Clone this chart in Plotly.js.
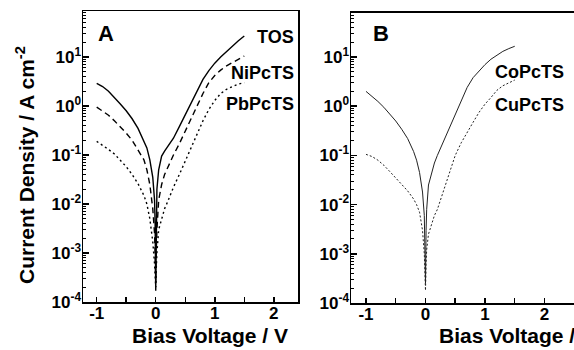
<!DOCTYPE html>
<html>
<head>
<meta charset="utf-8">
<script src="https://cdn.plot.ly/plotly-3.0.1.min.js"></script>
<style>html,body{margin:0;padding:0;background:#fff;}#chart{width:574px;height:350px;}</style>
</head>
<body>
<div id="chart"></div>
<script>
// Bias voltage grid (V)
var voltage = [-1,-0.9,-0.8,-0.7,-0.6,-0.5,-0.4,-0.3,-0.2,-0.15,-0.1,-0.05,-0.02,-0.01,0,0.01,0.02,0.05,0.1,0.15,0.2,0.3,0.4,0.5,0.6,0.7,0.8,0.9,1.0,1.1,1.2,1.3,1.4,1.5];

// Panel A current densities (A cm^-2)
var tosJ    = [2.9,2.5,2.0,1.5,1.1,0.8,0.55,0.35,0.2,0.14,0.08,0.035,0.012,0.004,1.7e-4,0.006,0.02,0.05,0.095,0.12,0.15,0.22,0.38,0.65,1.15,1.9,3.5,5.3,7.5,10,13,17,21.5,27];
var niPcTSJ = [0.95,0.8,0.65,0.5,0.38,0.28,0.2,0.13,0.08,0.05,0.025,0.008,0.0025,0.001,2.5e-4,0.0012,0.003,0.012,0.025,0.04,0.055,0.1,0.17,0.3,0.55,1.0,1.8,3.0,4.2,5.4,6.6,7.8,9.0,10.5];
var pbPcTSJ = [0.19,0.16,0.13,0.105,0.08,0.058,0.04,0.026,0.015,0.01,0.005,0.0017,6e-4,4e-4,2e-4,5e-4,0.001,0.003,0.005,0.008,0.011,0.022,0.04,0.075,0.14,0.27,0.5,0.85,1.3,1.8,2.2,2.5,2.8,3.0];

// Panel B current densities (A cm^-2)
var coPcTSJ = [2.0,1.6,1.25,0.95,0.7,0.5,0.34,0.22,0.12,0.08,0.045,0.018,0.006,0.002,2.5e-4,0.003,0.008,0.025,0.045,0.07,0.1,0.19,0.37,0.7,1.3,2.4,3.8,5.3,7.0,9.0,11,13,14.8,16.5];
var cuPcTSJ = [0.105,0.095,0.08,0.063,0.047,0.035,0.026,0.019,0.013,0.01,0.007,0.003,0.001,5e-4,1.8e-4,6e-4,0.0012,0.0025,0.004,0.006,0.008,0.018,0.045,0.1,0.18,0.3,0.47,0.75,1.1,1.5,2.1,2.6,3.0,3.4];

// Tick labels
var yTickVals = [1e-4,1e-3,1e-2,1e-1,1e0,1e1];
var yTickText = ['10<sup>-4</sup>','10<sup>-3</sup>','10<sup>-2</sup>','10<sup>-1</sup>','10<sup>0</sup>','10<sup>1</sup>'];
var xTickVals = [-1,0,1,2];
var xTickText = ['-1','0','1','2'];

var FONT = 'Liberation Sans, Arial, sans-serif';

var traces = [
  {x: voltage, y: tosJ, xaxis:'x', yaxis:'y', mode:'lines', line:{color:'#000', width:1.4}},
  {x: voltage, y: niPcTSJ, xaxis:'x', yaxis:'y', mode:'lines', line:{color:'#000', width:1.4, dash:'6px,4px'}},
  {x: voltage, y: pbPcTSJ, xaxis:'x', yaxis:'y', mode:'lines', line:{color:'#000', width:1.4, dash:'2px,3px'}},
  {x: voltage, y: coPcTSJ, xaxis:'x2', yaxis:'y2', mode:'lines', line:{color:'#222', width:1.0}},
  {x: voltage, y: cuPcTSJ, xaxis:'x2', yaxis:'y2', mode:'lines', line:{color:'#222', width:1.0, dash:'2px,2px'}}
];

function xAxis(domain, range, anchor) {
  return {
    domain: domain, range: range, anchor: anchor,
    tickmode:'array', tickvals: xTickVals, ticktext: xTickText,
    ticks:'inside', ticklen:5, tickwidth:1.5, tickcolor:'#000',
    minor:{dtick:0.5, ticks:'inside', ticklen:5, tickwidth:1.5, tickcolor:'#000'},
    showline:true, linecolor:'#000', linewidth:1.5, mirror:true,
    showgrid:false, zeroline:false, ticklabelstandoff:-5,
    tickfont:{family:FONT, size:17, weight:'bold', color:'#000'}
  };
}
function yAxis(domain, range, anchor, mirror) {
  return {
    domain: domain, type:'log', range: range, anchor: anchor,
    tickmode:'array', tickvals: yTickVals, ticktext: yTickText,
    ticks:'inside', ticklen:6, tickwidth:1.5, tickcolor:'#000',
    minor:{dtick:'D1', ticks:'inside', ticklen:3, tickwidth:1, tickcolor:'#000'},
    showline:true, linecolor:'#000', linewidth:1.5, mirror:mirror,
    showgrid:false, zeroline:false, ticklabelstandoff:-3,
    tickfont:{family:FONT, size:17, weight:'bold', color:'#000'}
  };
}

var W = 574, H = 350;
function px(x){return x/W;}
function py(y){return 1 - y/H;}

function ann(text, x, y, xanchor, size, extra) {
  var a = {text:text, xref:'paper', yref:'paper', x:px(x), y:py(y), xanchor:xanchor, yanchor:'middle',
    showarrow:false, font:{family:FONT, size:size, weight:'bold', color:'#000'}};
  if (extra) for (var k in extra) a[k] = extra[k];
  return a;
}

var layout = {
  width: W, height: H,
  margin:{l:0, r:0, t:0, b:0},
  paper_bgcolor:'#fff', plot_bgcolor:'#fff',
  showlegend:false,
  xaxis: xAxis([px(83), px(298)], [-1.232, 2.41], 'y'),
  yaxis: yAxis([py(302), py(11)], [-4, 1.94], 'x', true),
  xaxis2: xAxis([px(351), 1], [-1.252, 2.496], 'y2'),
  yaxis2: yAxis([py(303), py(12.7)], [-4, 1.9], 'x2', false),
  annotations: [
    ann('A', 96, 33, 'left', 22),
    ann('B', 371, 33, 'left', 22),
    ann('TOS', 296, 37, 'right', 18),
    ann('NiPcTS', 296, 73.5, 'right', 18),
    ann('PbPcTS', 296, 103.5, 'right', 18),
    ann('CoPcTS', 493, 71.5, 'left', 18),
    ann('CuPcTS', 493, 105, 'left', 18),
    ann('Bias Voltage / V', 210, 335, 'center', 21),
    ann('Bias Voltage / V', 437, 335, 'left', 21),
    ann('Current Density / A cm<sup>-2</sup>', 25, 165, 'center', 21, {textangle:-90})
  ]
};

Plotly.newPlot('chart', traces, layout, {staticPlot:true, displayModeBar:false});
</script>
</body>
</html>
